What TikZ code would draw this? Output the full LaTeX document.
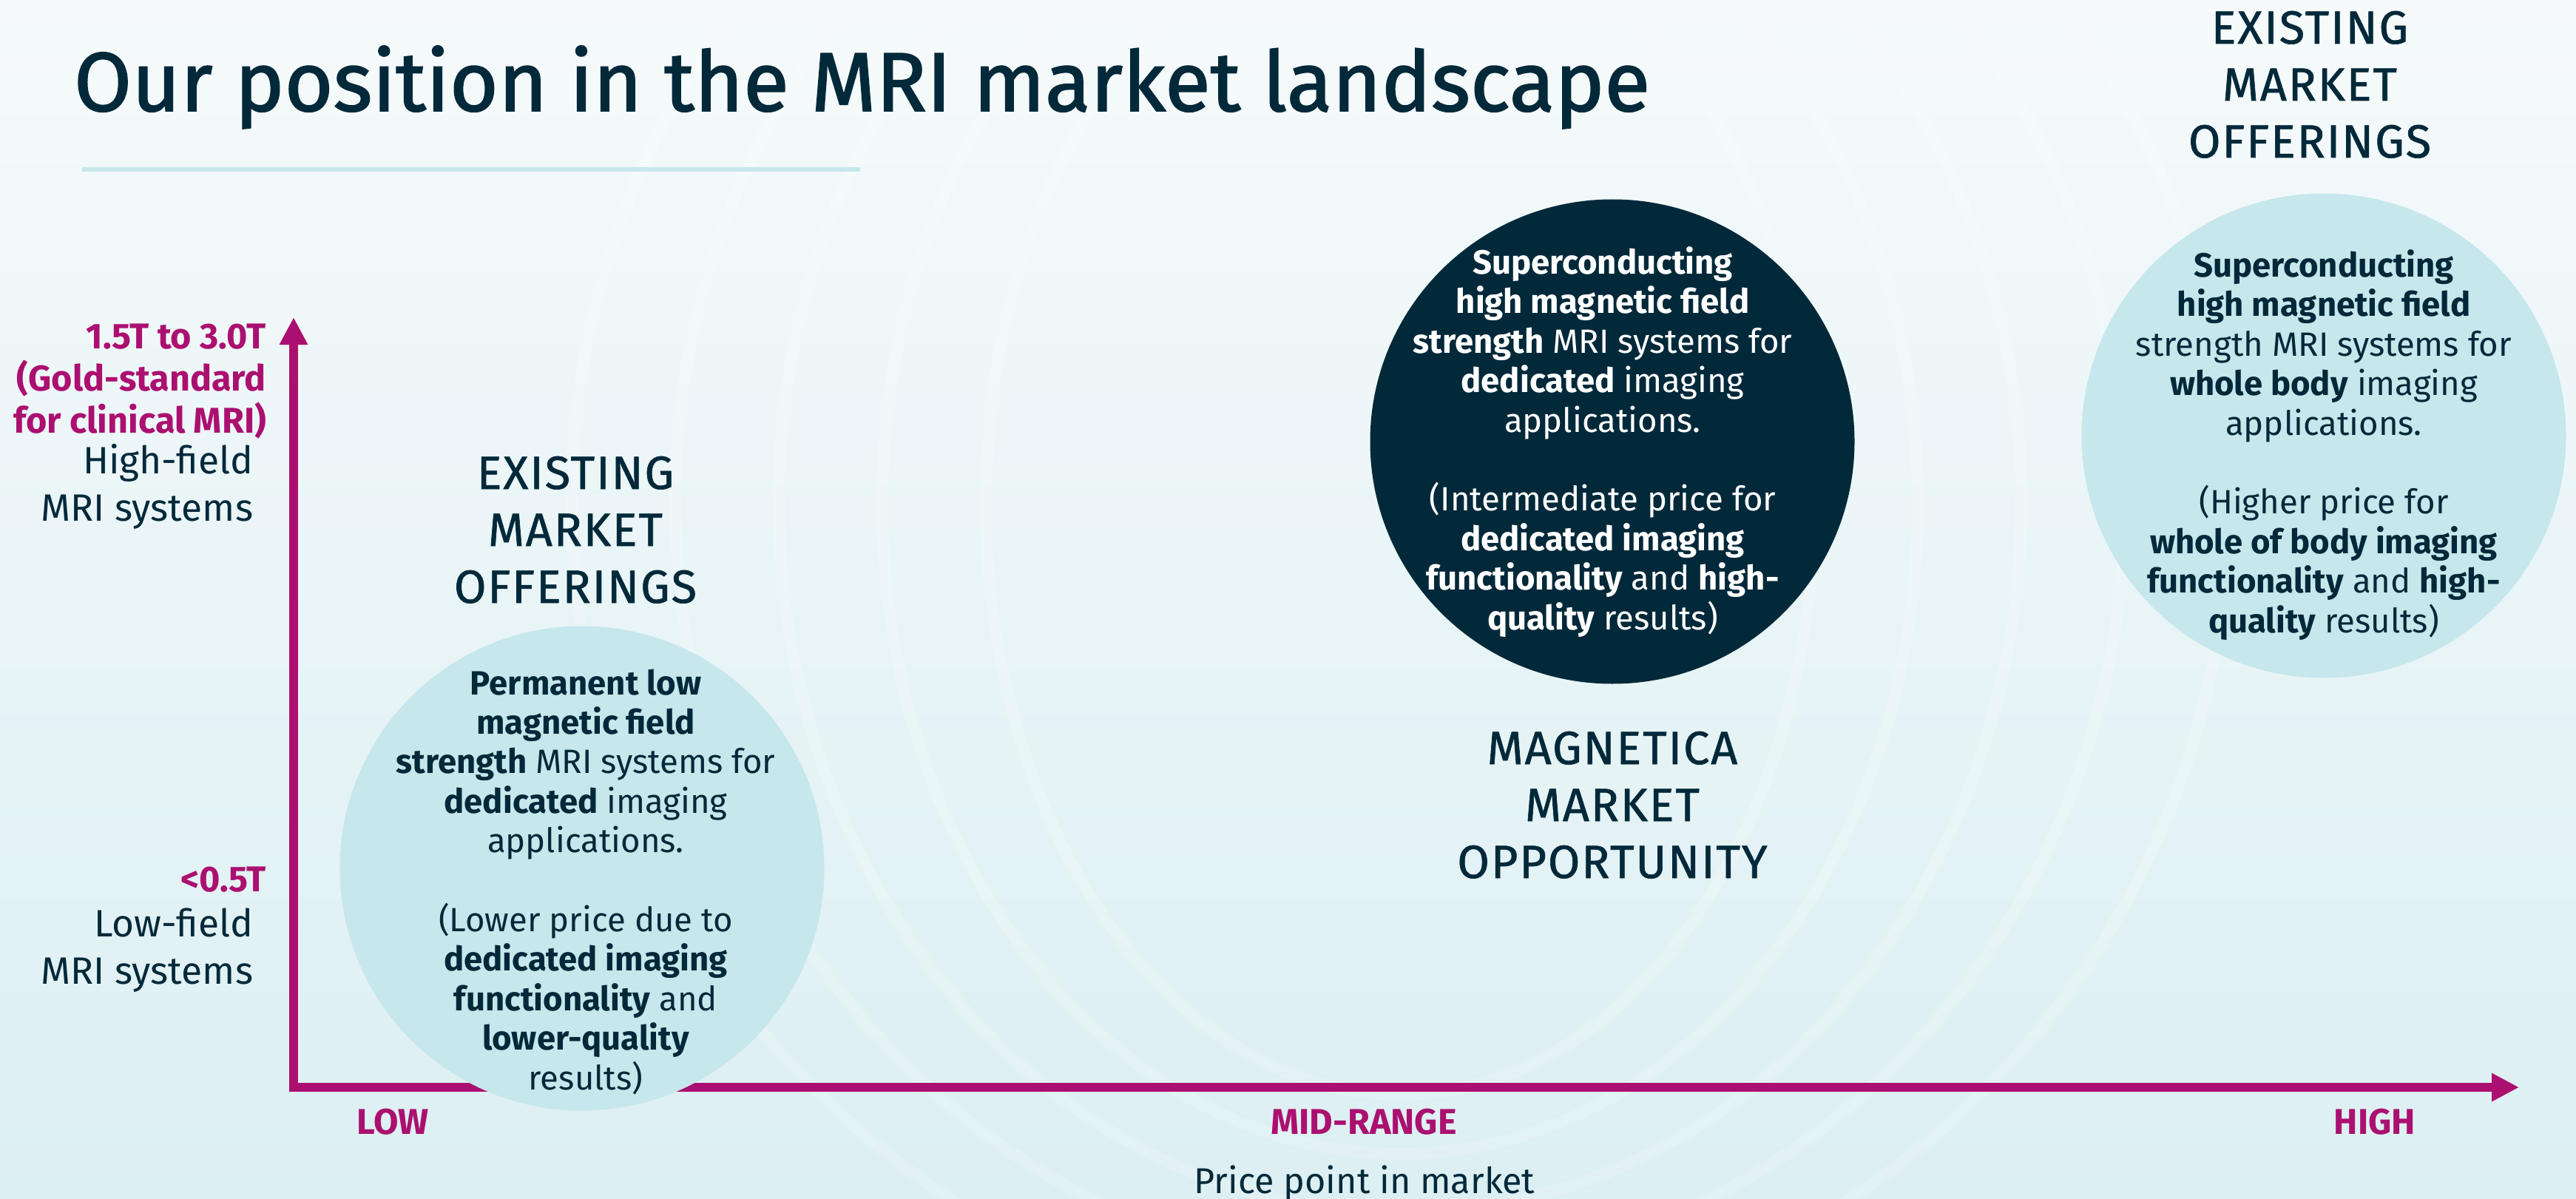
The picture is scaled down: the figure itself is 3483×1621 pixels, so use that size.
\documentclass[tikz,border=0pt]{standalone}
\usepackage{fontspec}
\setmainfont{Fira Sans}
\usetikzlibrary{arrows.meta}
\definecolor{navy}{HTML}{02293A}
\definecolor{magen}{HTML}{AB1070}
\definecolor{lteal}{HTML}{C6E7EB}
\definecolor{bgtop}{HTML}{F6FAFB}
\definecolor{bgbot}{HTML}{DCEFF2}
\begin{document}
\begin{tikzpicture}[x=1pt,y=-1pt,
  every node/.style={inner sep=0pt, outer sep=0pt},
  bodytxt/.style={align=center, font=\fontsize{45.5}{53.4}\selectfont, text=navy, anchor=base},
  headtxt/.style={align=center, font=\fontsize{63}{77}\selectfont\addfontfeatures{LetterSpace=3,FakeBold=1}, text=navy, anchor=base},
  ticklab/.style={font=\bfseries\fontsize{48.5}{55}\selectfont, text=magen, anchor=base},
  fieldval/.style={align=right, font=\bfseries\fontsize{48.5}{57}\selectfont, text=magen, anchor=base east},
  fieldname/.style={align=right, font=\fontsize{51.5}{63.5}\selectfont, text=navy, anchor=base east},
  bubble/.style={circle, minimum size=655pt, fill=lteal},
  axis/.style={draw=magen, line width=12pt, line join=miter,
    {Triangle[length=37pt,width=36pt]}-{Triangle[length=37pt,width=36pt]}},
  swirl/.style={draw=white, opacity=0.18, line width=16pt}
]
\useasboundingbox (0,0) rectangle (3483,1621);
\shade[top color=bgtop, bottom color=bgbot] (0,0) rectangle (3483,1621);
% faint background contours
\foreach \rx/\ry in {560/800, 700/880, 840/960, 980/1040, 1120/1120}{
  \draw[swirl] (1893,680) ellipse [x radius=\rx, y radius=\ry];
}
% title
\node[anchor=base west, font=\fontsize{113}{120}\selectfont\addfontfeatures{FakeBold=1.5}, text=navy] (title) at (100,150) {Our position in the MRI market landscape};
\fill[lteal] (111,226) rectangle (1163,232);
% axes
\coordinate (ytop) at (397,429);
\coordinate (origin) at (397,1470);
\coordinate (xend) at (3406,1470);
\draw[axis] (ytop) -- (origin) -- (xend);
% y labels (base = last line)
\node[fieldval] (hival) at (360,585) {1.5T to 3.0T\\(Gold-standard\\for clinical MRI)};
\node[fieldname] (hiname) at (342,704) {High-field\\MRI systems};
\node[fieldval] (loval) at (360,1205) {<0.5T};
\node[fieldname] (loname) at (342,1330) {Low-field\\MRI systems};
% x labels
\node[ticklab] (low) at (531,1533) {LOW};
\node[ticklab] (mid) at (1844,1533) {MID-RANGE};
\node[ticklab] (high) at (3211,1533) {HIGH};
\node[anchor=base, font=\fontsize{48.5}{54}\selectfont, text=navy] (xtitle) at (1845,1613) {Price point in market};
% bubbles
\node[bubble] (lowc) at (787,1174) {};
\node[bubble, fill=navy] (midc) at (2180,597) {};
\node[bubble] (highc) at (3142,589) {};
% headings
\node[headtxt] (lowh) at (778,815) {EXISTING\\MARKET\\OFFERINGS};
\node[headtxt] (midh) at (2180,1187) {MAGNETICA\\MARKET\\OPPORTUNITY};
\node[headtxt] (highh) at (3123,213) {EXISTING\\MARKET\\OFFERINGS};
% bubble texts (base = last line)
\node[bodytxt] (lowt) at (792,1473) {\textbf{Permanent low}\\\textbf{magnetic field}\\\textbf{strength} MRI systems for\\\textbf{dedicated} imaging\\applications.\\[53.4pt](Lower price due to\\\textbf{dedicated imaging}\\\textbf{functionality} and\\\textbf{lower-quality}\\results)};
\node[bodytxt, text=white] (midt) at (2167,851) {\textbf{Superconducting}\\\textbf{high magnetic field}\\\textbf{strength} MRI systems for\\\textbf{dedicated} imaging\\applications.\\[53.4pt](Intermediate price for\\\textbf{dedicated imaging}\\\textbf{functionality} and \textbf{high-}\\\textbf{quality} results)};
\node[bodytxt] (hight) at (3142,855) {\textbf{Superconducting}\\\textbf{high magnetic field}\\strength MRI systems for\\\textbf{whole body} imaging\\applications.\\[53.4pt](Higher price for\\\textbf{whole of body imaging}\\\textbf{functionality} and \textbf{high-}\\\textbf{quality} results)};
\end{tikzpicture}
\end{document}
